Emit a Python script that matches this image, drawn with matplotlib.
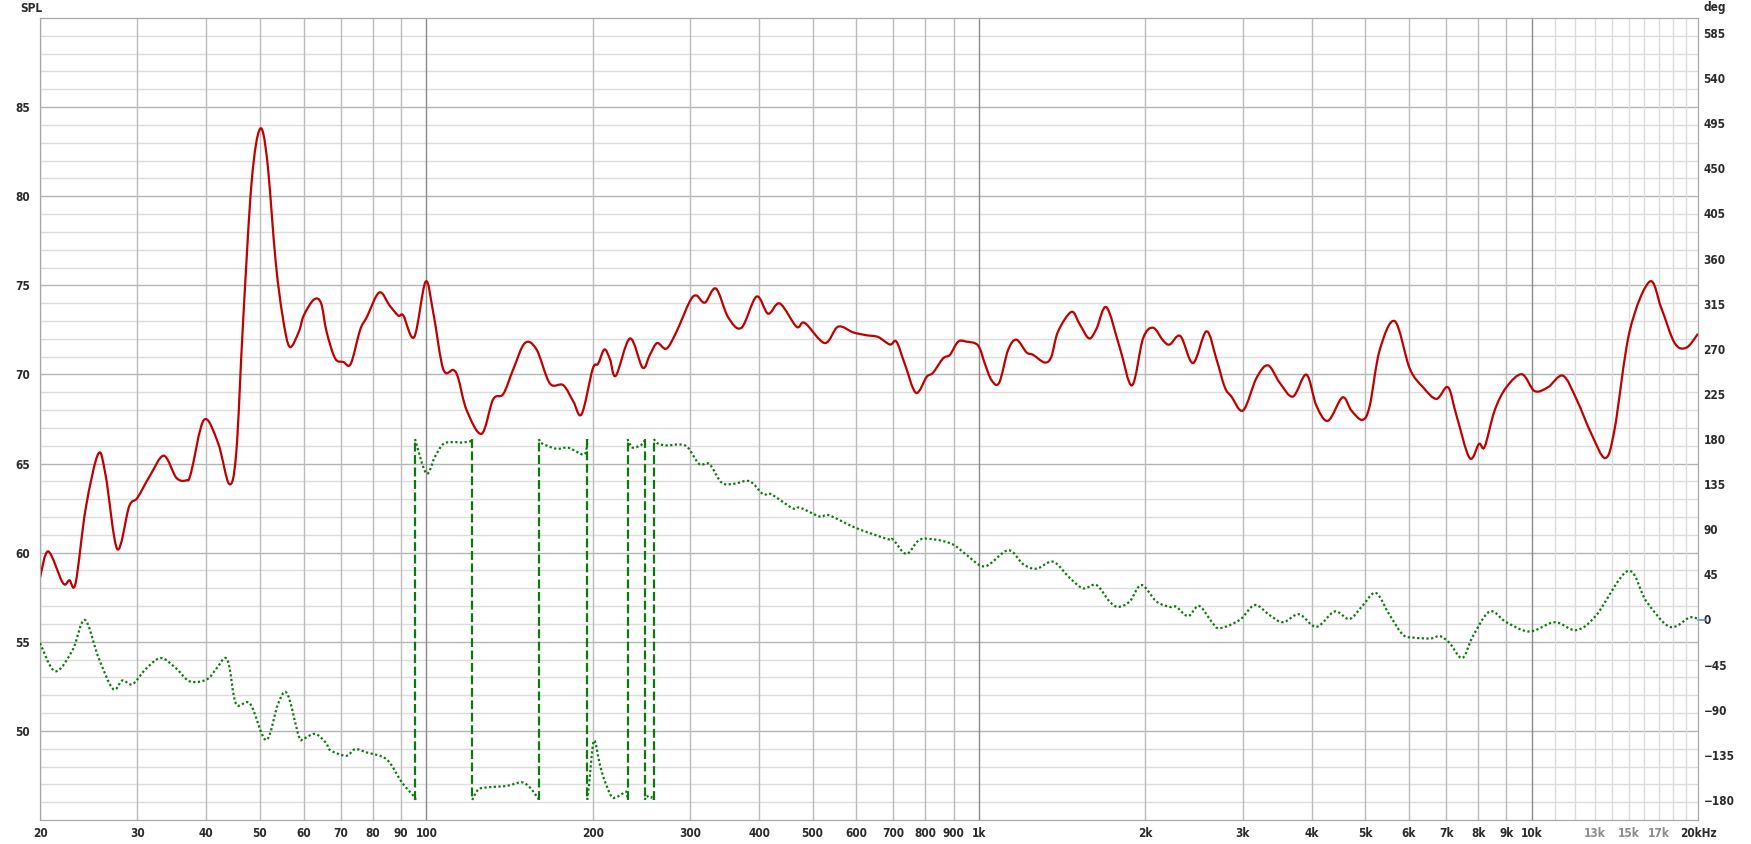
import numpy as np
import matplotlib
matplotlib.use("Agg")
import matplotlib.pyplot as plt
from matplotlib.path import Path
from matplotlib.patches import PathPatch

# SPL magnitude response (Hz, dB)
spl_freq = [20, 20.7, 22.0, 22.6, 23.2, 24.2, 25.5, 26.3, 27.6, 29.0, 30, 31.6, 33.5, 35.3,
            36.8, 37.5, 39.6, 42.0, 44.0, 45.3, 46.6, 48.3, 50.0, 51.5, 53.4, 55.0, 56.6,
            58.8, 60.0, 62.6, 64.5, 66.0, 68.4, 70.8, 73.0, 75.9, 78.0, 82.2, 85.9, 89.0,
            90.9, 95.1, 99.7, 102.9, 107.3, 111.9, 114.2, 118.3, 125.9, 132.1, 137.8, 143.7,
            150.8, 158.3, 167.3, 176.9, 184.4, 191.0, 200, 204.6, 210, 215, 220.3, 233.6,
            246.3, 253.8, 261.6, 272, 283.6, 299.8, 308.2, 319.2, 334.2, 351.8, 371.8, 395.8,
            415.4, 436.2, 467.6, 484, 526, 556, 592, 626, 657, 690, 709, 734, 769, 804, 826,
            861, 886, 917, 949, 996, 1025, 1054, 1088, 1129, 1169, 1219, 1253, 1315, 1352,
            1390, 1470, 1522, 1582, 1631, 1701, 1798, 1892, 1981, 2066, 2154, 2214, 2315,
            2440, 2580, 2690, 2785, 2863, 3006, 3178, 3334, 3500, 3700, 3912, 4080, 4282,
            4546, 4718, 4940, 5094, 5310, 5654, 6018, 6362, 6726, 7058, 7308, 7724, 8030,
            8222, 8572, 9000, 9604, 10124, 10702, 11392, 12046, 12824, 13592, 14130, 15042,
            16352, 17166, 18146, 19048, 20000]
spl_db = [58.6, 60.07, 58.3, 58.45, 58.3, 62.5, 65.55, 64.3, 60.2, 62.6, 63.07, 64.3, 65.44,
          64.2, 64.06, 64.45, 67.45, 66.15, 63.85, 65.6, 72.9, 80.8, 83.77, 82.1, 76.3, 73.2,
          71.55, 72.4, 73.3, 74.2, 74.0, 72.4, 70.9, 70.7, 70.6, 72.5, 73.2, 74.6, 73.85, 73.3,
          73.3, 72.1, 75.2, 73.5, 70.3, 70.25, 69.8, 68.0, 66.67, 68.6, 68.9, 70.3, 71.76,
          71.4, 69.5, 69.4, 68.5, 67.77, 70.3, 70.6, 71.4, 70.85, 69.93, 72.02, 70.38, 71.1,
          71.76, 71.45, 72.4, 74.1, 74.43, 74.03, 74.82, 73.2, 72.62, 74.37, 73.41, 73.98,
          72.68, 72.89, 71.76, 72.68, 72.36, 72.2, 72.1, 71.68, 71.84, 70.6, 68.97, 69.86,
          70.1, 70.9, 71.1, 71.84, 71.84, 71.63, 70.6, 69.67, 69.54, 71.37, 71.95, 71.24,
          71.1, 70.67, 71.0, 72.4, 73.51, 72.81, 72.02, 72.55, 73.77, 71.5, 69.39, 72.02,
          72.62, 71.9, 71.68, 72.15, 70.64, 72.42, 70.85, 69.28, 68.76, 67.98, 69.8, 70.51,
          69.54, 68.76, 69.99, 68.24, 67.4, 68.71, 67.98, 67.45, 68.24, 71.37, 72.99, 70.33,
          69.28, 68.63, 69.28, 67.72, 65.31, 66.1, 65.94, 67.98, 69.28, 70.01, 69.07, 69.28,
          69.93, 68.63, 66.67, 65.31, 66.93, 72.42, 75.21, 73.72, 71.76, 71.5, 72.28]

# phase (Hz, deg), wrapped to +-180; a repeated frequency marks a wrap
phase_freq = [20, 21.3, 22.9, 24.1, 25.5, 27.1, 28.2, 29.4, 31.1, 33.1, 35.3, 37.3, 40.0, 41.7,
              43.2, 44.0, 45.3, 48.0, 51.3, 53.9, 56.0, 58.8, 60, 63, 65.9, 67.0, 71.6, 74.3,
              78.0, 84.8, 90.4, 95.1, 95.4, 95.4, 100, 103.6, 107.3, 112, 116, 120.5, 121.1,
              121.1, 124.1, 128.5, 139.7, 148.7, 154, 159.4, 159.9, 159.9, 161.7, 172, 180.6,
              192.3, 195, 195.5, 195.5, 197, 201, 206, 210, 216.4, 221, 226, 230.3, 231.3,
              231.3, 233, 236.7, 246.2, 248.6, 248.6, 250, 254, 257, 258, 258, 262.6, 272,
              287.6, 297.6, 311.8, 325.3, 342.3, 360.8, 384.6, 406.7, 420.6, 460, 474.7, 515,
              535, 592, 640, 690, 700, 739, 781, 838, 898, 949, 1025, 1129, 1202, 1271, 1362,
              1460, 1543, 1631, 1722, 1785, 1874, 1968, 2094, 2214, 2276, 2390, 2502, 2640,
              2726, 2964, 3154, 3358, 3550, 3794, 4080, 4402, 4680, 4940, 5224, 5536, 5852,
              6130, 6560, 6830, 7108, 7492, 7830, 8396, 9000, 9918, 11010, 12046, 13092,
              14936, 16128, 17774, 19312, 20000]
phase_deg = [-23.6, -51.6, -30.6, -0.4, -37.5, -69.1, -60.8, -64.5, -49.2, -38.4, -49, -61.7,
             -60, -49, -38.4, -46.8, -84.4, -84, -120.2, -84.4, -73.8, -116.4, -118.7, -114.1,
             -123.4, -130.3, -136, -129.4, -132.6, -139.6, -162.8, -176.8, -180, 180, 145.8,
             162, 175, 177, 176.5, 178, 180, -180, -169.8, -167.5, -166, -162.4, -167.6,
             -178.5, -180, 180, 175.8, 170.3, 171.3, 164.5, 171, 180, -180, -165, -121,
             -144.4, -160, -176.7, -177, -174, -172, -180, 180, 176, 171.3, 175, 180, -180,
             -176, -178, -177, -180, 180, 175.5, 173.6, 174.6, 171.3, 155.1, 155, 136.5,
             135.4, 137.9, 125, 125, 111, 111.5, 102.7, 104, 92.5, 85.5, 79.5, 79.5, 65.5,
             79.5, 79.5, 74.8, 64.6, 53, 69.1, 55.2, 50.7, 57.6, 41.4, 31.1, 34.4, 18.1, 12.6,
             18, 34.4, 18, 12.6, 12.6, 3.4, 13.5, -2.7, -8.7, -0.4, 14.4, 4.3, -2.7, 5.2,
             -7.3, 8, 0.5, 13.5, 26.5, 4.3, -15.3, -18.1, -18.9, -16.7, -23.6, -38.4, -16.7,
             8, -2.7, -12, -2.7, -10.6, 4.3, 48.4, 18.1, -7.3, 2, 0.5]

x_ticks = [20, 30, 40, 50, 60, 70, 80, 90, 100, 200, 300, 400, 500, 600, 700, 800, 900,
           1000, 2000, 3000, 4000, 5000, 6000, 7000, 8000, 9000, 10000, 13000, 15000, 17000,
           20000]
x_labels = ["20", "30", "40", "50", "60", "70", "80", "90", "100", "200", "300", "400",
            "500", "600", "700", "800", "900", "1k", "2k", "3k", "4k", "5k", "6k", "7k",
            "8k", "9k", "10k", "13k", "15k", "17k", "20kHz"]
spl_ticks = [50, 55, 60, 65, 70, 75, 80, 85]
deg_ticks = list(range(-180, 586, 45))

txt_color = "#2a2a2a"
tfont = dict(family="DejaVu Sans", stretch="condensed", weight="bold", size=8.5)


def smooth_curve(ax, x, y, **kw):
    # cubic Bezier through the points (Catmull-Rom), built in log-x space
    lx = np.log10(np.asarray(x, float))
    yy = np.asarray(y, float)
    pts = np.column_stack([lx, yy])
    n = len(pts)
    verts = [pts[0]]
    codes = [Path.MOVETO]
    for i in range(n - 1):
        p0 = pts[max(i - 1, 0)]
        p1 = pts[i]
        p2 = pts[i + 1]
        p3 = pts[min(i + 2, n - 1)]
        c1 = p1 + (p2 - p0) / 6.0
        c2 = p2 - (p3 - p1) / 6.0
        verts += [c1, c2, p2]
        codes += [Path.CURVE4] * 3
    verts = np.array(verts)
    verts[:, 0] = 10 ** verts[:, 0]
    ax.add_patch(PathPatch(Path(verts, codes), fill=False, capstyle="butt", **kw))


def style_labels(labels):
    for lab in labels:
        lab.set_family(tfont["family"])
        lab.set_stretch(tfont["stretch"])
        lab.set_weight(tfont["weight"])
        lab.set_fontsize(tfont["size"])


fig = plt.figure(figsize=(17.51, 8.44), dpi=100)
ax = fig.add_axes([40 / 1751, 24 / 844, 1658 / 1751, 802 / 844])
ax.set_xscale("log")
ax.set_xlim(20, 20000)
ax.set_ylim(45, 90)
ax2 = ax.twinx()
ax2.set_ylim(-200, 600)

# grid
for v in range(46, 90):
    ax.axhline(v, color="#b4b4b4" if v % 5 == 0 else "#dcdcdc", lw=1.0, zorder=0)
for d in [10, 100, 1000]:
    for m in range(2, 10):
        f = d * m
        if f >= 20:
            ax.axvline(f, color="#bcbcbc", lw=1.0, zorder=0)
for f in [100, 1000, 10000]:
    ax.axvline(f, color="#8a8a8a", lw=1.0, zorder=0)
for f in range(11000, 20000, 1000):
    ax.axvline(f, color="#dcdcdc", lw=1.0, zorder=0)

for s in list(ax.spines.values()) + list(ax2.spines.values()):
    s.set_color("#a8a8a8")

smooth_curve(ax, spl_freq, spl_db, edgecolor="#c00000", lw=1.6, zorder=3)

pf = np.array(phase_freq)
pv = np.array(phase_deg)
wraps = np.where(np.diff(pf) == 0)[0]
start = 0
green = "#0a7a0a"
dotted = (0, (1, 1.1))
for i in wraps:
    smooth_curve(ax2, pf[start:i + 1], pv[start:i + 1], edgecolor=green, lw=1.6,
                 linestyle=dotted, zorder=3)
    ax2.plot(pf[i:i + 2], pv[i:i + 2], color=green, lw=1.6,
             linestyle=(0, (4, 1.6)), zorder=3)
    start = i + 1
smooth_curve(ax2, pf[start:], pv[start:], edgecolor=green, lw=1.6, linestyle=dotted, zorder=3)

# ticks (set after all plotting so nothing resets them)
ax.set_xticks(x_ticks)
ax.set_xticklabels(x_labels)
ax.xaxis.set_minor_locator(matplotlib.ticker.NullLocator())
ax.tick_params(axis="x", length=0, pad=5, labelcolor=txt_color)
style_labels(ax.get_xticklabels())
for lab in ax.get_xticklabels():
    if lab.get_text() in ("13k", "15k", "17k"):
        lab.set_color("#8c8c8c")
ax.set_yticks(spl_ticks)
ax.tick_params(axis="y", length=0, pad=7, labelcolor=txt_color)
style_labels(ax.get_yticklabels())

ax2.set_yticks(deg_ticks)
ax2.tick_params(axis="y", length=0, pad=4, labelcolor=txt_color)
style_labels(ax2.get_yticklabels())
# small blue marker at 0 deg on the right axis
ax2.plot([1.0, 1.004], [0, 0], transform=ax2.get_yaxis_transform(), color="#5b8ed6",
         lw=1.2, clip_on=False)

fig.text(20 / 1751, 1 - 8 / 844, "SPL", ha="left", va="center", color=txt_color, **tfont)
fig.text(1703 / 1751, 1 - 8 / 844, "deg", ha="left", va="center", color=txt_color, **tfont)

fig.savefig("out.png", dpi=100, facecolor="white")
